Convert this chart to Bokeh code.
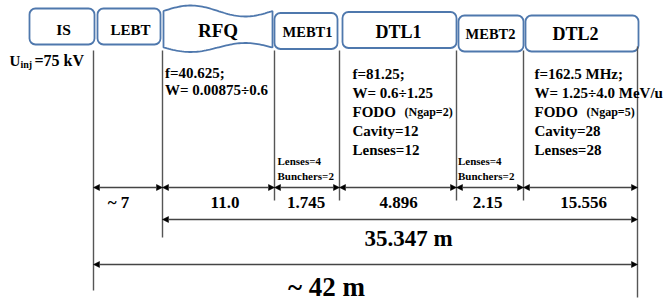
import numpy as np
from bokeh.plotting import figure
from bokeh.models import Range1d, Arrow, NormalHead, ColumnDataSource
from bokeh.embed import file_html
from bokeh.resources import INLINE
from bokeh.core.properties import value

# ---------------- data ----------------
sections = ["IS", "LEBT", "RFQ", "MEBT1", "DTL1", "MEBT2", "DTL2"]
seg_lengths = ["~ 7", "11.0", "1.745", "4.896", "2.15", "15.556"]   # LEBT .. DTL2
linac_length = "35.347 m"
total_length = "~ 42 m"
u_inj = ["U", "inj", "=75 kV"]
rfq_params = ["f=40.625;", "W= 0.00875÷0.6"]
dtl1_params = ["f=81.25;", "W= 0.6÷1.25", "FODO", "Cavity=12", "Lenses=12"]
dtl2_params = ["f=162.5 MHz;", "W= 1.25÷4.0 MeV/u", "FODO", "Cavity=28", "Lenses=28"]
ngap = ["(Ngap=2)", "(Ngap=5)"]
mebt_params = ["Lenses=4", "Bunchers=2"]

# ---------------- layout ----------------
FONT = value("Liberation Serif")
BLUE = "#4f78ad"
GREY = "#555555"

p = figure(width=671, height=305, x_range=Range1d(0, 671), y_range=Range1d(305, 0),
           x_axis_type=None, y_axis_type=None, toolbar_location=None,
           output_backend="svg", min_border=0)
p.grid.visible = False
p.outline_line_color = None
p.background_fill_color = "white"

# boxes (left, right, top, bottom) for all but RFQ
bl = [29, 97, 274, 342, 458, 525]
br = [94, 160, 337, 456, 523, 638]
bt = [8, 8, 12.5, 11.5, 15, 15]
bb = [44, 44, 48.5, 47.5, 51, 51]
p.quad(left=bl, right=br, top=bt, bottom=bb, fill_color="white",
       line_color=BLUE, line_width=1.8, border_radius=6)

# RFQ wave shape
t = np.linspace(0, 1, 60)
xl, xr = 163, 272
xs = xl + (xr - xl) * t
top = 10.5 - 5.5 * np.sin(2 * np.pi * t)
bot = 47 + 4.5 * np.sin(2 * np.pi * t)
p.patch(np.concatenate([xs, xs[::-1]]), np.concatenate([top, bot[::-1]]),
        fill_color="white", line_color=BLUE, line_width=1.8)

# section titles
lab_x = [63, 130, 217.5, 307, 398, 490, 575]
lab_y = [29, 29, 30, 31, 31, 33, 33]
lab_size = ["15.5px", "15px", "19px", "14.5px", "18px", "14.5px", "18px"]
for s, x, y, fs in zip(sections, lab_x, lab_y, lab_size):
    p.text(x=[x], y=[y], text=[s], text_font=FONT, text_font_style="bold",
           text_font_size=fs, text_align="center", text_baseline="middle", text_color="black")

# vertical boundary lines
vx = [93, 162, 274, 339, 456, 523, 637]
vy0 = [50, 50, 50, 50, 50, 50, 46]
vy1 = [290, 237, 200, 200, 200, 200, 297]
p.segment(x0=vx, y0=vy0, x1=vx, y1=vy1, line_color=GREY, line_width=1.4)

# dimension arrows
ax0 = vx[:-1] + [162, 93]
ax1 = vx[1:] + [637, 637]
ay = [187] * 6 + [219, 264]
src = ColumnDataSource(dict(x0=ax0, x1=ax1, y=ay))
p.add_layout(Arrow(x_start="x0", y_start="y", x_end="x1", y_end="y", source=src,
                   line_color="#444444", line_width=1.3,
                   start=NormalHead(size=6, fill_color="black", line_color="black", line_width=0.5),
                   end=NormalHead(size=6, fill_color="black", line_color="black", line_width=0.5)))

# segment length labels
len_x = [118, 224.5, 305.5, 398, 487, 583]
p.text(x=len_x, y=[202] * 6, text=seg_lengths, text_font=FONT, text_font_style="bold",
       text_font_size="17px", text_align="center", text_baseline="middle")
p.text(x=[408], y=[238], text=[linac_length], text_font=FONT, text_font_style="bold",
       text_font_size="23px", text_align="center", text_baseline="middle")
p.text(x=[326], y=[286], text=[total_length], text_font=FONT, text_font_style="bold",
       text_font_size="27px", text_align="center", text_baseline="middle")

# U_inj
p.text(x=[9], y=[60], text=[u_inj[0]], text_font=FONT, text_font_style="bold",
       text_font_size="15px", text_align="left", text_baseline="middle")
p.text(x=[20], y=[63.5], text=[u_inj[1]], text_font=FONT, text_font_style="bold",
       text_font_size="10px", text_align="left", text_baseline="middle")
p.text(x=[34], y=[60], text=[u_inj[2]], text_font=FONT, text_font_style="bold",
       text_font_size="16px", text_align="left", text_baseline="middle")

# RFQ params
p.text(x=[164.5] * 2, y=[72, 89], text=rfq_params, text_font=FONT, text_font_style="bold",
       text_font_size="15px", text_align="left", text_baseline="middle")

# DTL params
rows = [73, 92, 111, 130, 149]
for x0, lines, ng in [(352, dtl1_params, ngap[0]), (534, dtl2_params, ngap[1])]:
    p.text(x=[x0] * 5, y=rows, text=lines, text_font=FONT, text_font_style="bold",
           text_font_size="15px", text_align="left", text_baseline="middle")
    p.text(x=[x0 + 52], y=[rows[2] + 0.5], text=[ng], text_font=FONT, text_font_style="bold",
           text_font_size="12px", text_align="left", text_baseline="middle")

# MEBT params
for x0 in [277, 457.5]:
    p.text(x=[x0] * 2, y=[160, 175], text=mebt_params, text_font=FONT, text_font_style="bold",
           text_font_size="11px", text_align="left", text_baseline="middle")

open("out.html", "w").write(file_html(p, INLINE))
